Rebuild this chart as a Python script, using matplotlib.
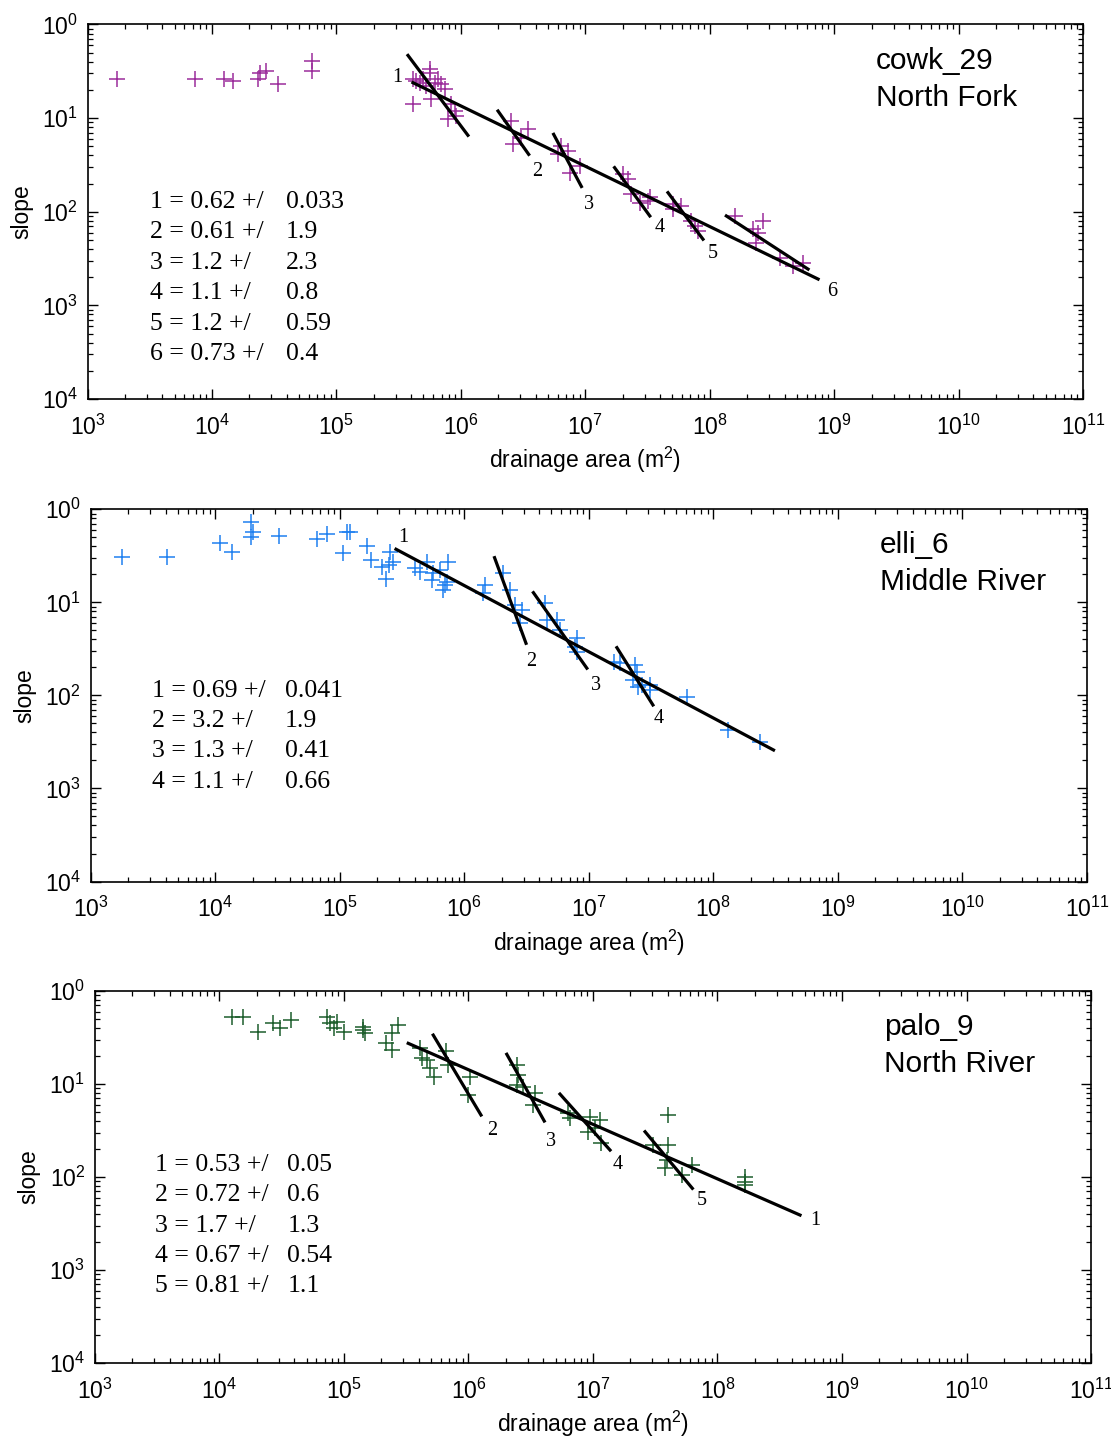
import matplotlib
matplotlib.use("Agg")
import matplotlib.pyplot as plt
from matplotlib import font_manager
from matplotlib.ticker import FixedLocator, FixedFormatter, LogLocator, NullFormatter

# ---- cowk_29 / North Fork ----
cowk_area = [1720, 7245, 12470, 14720, 23380, 24140, 27320, 33870, 63530, 63530,
             412e3, 434e3, 467e3, 495e3, 561e3, 561e3, 528e3, 615e3, 655e3, 697e3,
             741e3, 579e3, 412e3, 839e3, 891e3, 787e3, 920e3,
             2.55e6, 3.46e6, 3.06e6, 2.62e6, 6.43e6, 7.26e6, 6.04e6, 9.02e6, 7.5e6,
             2.01e7, 2.20e7, 2.35e7, 2.74e7, 3.30e7, 3.19e7, 5.07e7, 5.92e7, 5.07e7,
             7.13e7, 7.57e7, 8.05e7, 1.59e8, 2.23e8, 2.44e8, 2.68e8, 2.37e8, 3.66e8,
             4.68e8, 5.62e8]
cowk_slope = [0.264, 0.264, 0.264, 0.248, 0.264, 0.300, 0.318, 0.229, 0.318, 0.406,
              0.259, 0.248, 0.239, 0.259, 0.337, 0.305, 0.220, 0.239, 0.259, 0.229,
              0.203, 0.161, 0.140, 0.140, 0.119, 0.0970, 0.105,
              0.0931, 0.0759, 0.0618, 0.0525, 0.0504, 0.0446, 0.0410, 0.0308, 0.0262,
              0.0251, 0.0222, 0.0154, 0.0125, 0.0142, 0.0130, 0.0120, 0.0115, 0.0106,
              0.00798, 0.00706, 0.00624, 0.00902, 0.00650, 0.00600, 0.00798, 0.00469,
              0.00324, 0.00264, 0.00287]
cowk_fit_area = [(4.12e5, 7.43e8), (3.76e5, 1.14e6), (1.99e6, 3.51e6), (5.57e6, 9.31e6),
                 (1.72e7, 3.30e7), (4.62e7, 8.83e7), (1.36e8, 6.17e8)]
cowk_fit_slope = [(0.239, 0.00191), (0.467, 0.0655), (0.119, 0.041), (0.0671, 0.0186),
                  (0.0296, 0.00902), (0.016, 0.00509), (0.00902, 0.00244)]
cowk_lbl_pos = [(3.1e5, 0.272), (4.07e6, 0.027), (1.08e7, 0.012), (3.96e7, 0.00684),
                (1.06e8, 0.0036), (9.57e8, 0.00142)]
cowk_lbl_txt = ["1", "2", "3", "4", "5", "6"]
cowk_theta = ["1 = 0.62 +/", "2 = 0.61 +/", "3 = 1.2 +/", "4 = 1.1 +/", "5 = 1.2 +/", "6 = 0.73 +/"]
cowk_err = ["0.033", "1.9", "2.3", "0.8", "0.59", "0.4"]

# ---- elli_6 / Middle River ----
elli_area = [1795, 4074, 10940, 13580, 19280, 19280, 20230, 32510, 65310, 78700,
             1.07e5, 1.14e5, 1.21e5, 1.65e5, 1.77e5, 2.17e5, 2.35e5, 2.54e5, 2.69e5, 2.50e5,
             4.03e5, 4.42e5, 5.0e5, 5.65e5, 6.40e5, 5.48e5, 7.45e5, 7.23e5, 6.79e5, 7.01e5,
             1.47e6, 1.42e6, 2.06e6, 2.33e6, 2.56e6, 2.90e6, 2.81e6, 4.46e6, 4.60e6,
             5.53e6, 5.89e6, 8.02e6, 7.76e6, 8.02e6, 1.58e7, 1.78e7, 2.36e7, 2.43e7,
             2.28e7, 2.67e7, 3.11e7, 2.50e7, 3.11e7, 6.12e7, 1.32e8, 2.38e8]
elli_slope = [0.310, 0.310, 0.438, 0.350, 0.736, 0.508, 0.574, 0.516, 0.476, 0.538,
              0.337, 0.566, 0.566, 0.403, 0.285, 0.242, 0.178, 0.350, 0.273, 0.252,
              0.232, 0.213, 0.273, 0.205, 0.223, 0.174, 0.273, 0.167, 0.136, 0.154,
              0.154, 0.125, 0.205, 0.136, 0.0937, 0.0828, 0.0596, 0.0977, 0.0646,
              0.0646, 0.0505, 0.0411, 0.0334, 0.0295, 0.0230, 0.0221, 0.0212, 0.0180,
              0.0147, 0.0129, 0.0129, 0.0124, 0.0114, 0.00968, 0.00425, 0.00318]
elli_fit_area = [(2.83e5, 3.04e8), (1.75e6, 3.13e6), (3.59e6, 9.64e6), (1.68e7, 3.27e7)]
elli_fit_slope = [(0.372, 0.00259), (0.302, 0.0363), (0.127, 0.0196), (0.0326, 0.00789)]
elli_lbl_pos = [(3.23e5, 0.492), (3.44e6, 0.0229), (1.14e7, 0.0129), (3.66e7, 0.00571)]
elli_lbl_txt = ["1", "2", "3", "4"]
elli_theta = ["1 = 0.69 +/", "2 = 3.2 +/", "3 = 1.3 +/", "4 = 1.1 +/"]
elli_err = ["0.041", "1.9", "0.41", "0.66"]

# ---- palo_9 / North River ----
palo_area = [12530, 15520, 20490, 27050, 30620, 37330, 72630, 77250, 87330, 83180,
             1.0e5, 1.429e5, 1.475e5, 1.429e5, 2.415e5, 2.729e5, 2.173e5, 2.415e5,
             4.074e5, 4.207e5, 4.613e5, 4.909e5, 5.284e5, 6.592e5, 6.886e5, 1.028e6, 9.95e5,
             2.44e6, 2.51e6, 2.44e6, 2.75e6, 3.42e6, 3.31e6, 6.34e6, 6.53e6, 9.46e6,
             1.14e7, 9.16e6, 1.04e7, 1.17e7, 3.05e7, 4.03e7, 4.03e7, 3.91e7, 3.78e7,
             5.15e7, 6.21e7, 1.66e8, 1.66e8, 1.66e8]
palo_slope = [0.529, 0.529, 0.365, 0.456, 0.397, 0.488, 0.521, 0.450, 0.468, 0.397,
              0.365, 0.413, 0.351, 0.381, 0.351, 0.431, 0.274, 0.232,
              0.242, 0.189, 0.181, 0.148, 0.120, 0.228, 0.160, 0.120, 0.0762,
              0.160, 0.125, 0.0975, 0.0935, 0.0794, 0.0594, 0.0484, 0.0428, 0.0445,
              0.0410, 0.0307, 0.0334, 0.0230, 0.0221, 0.0464, 0.0221, 0.0152, 0.0124,
              0.0105, 0.0135, 0.0101, 0.00890, 0.00820]
palo_fit_area = [(3.28e5, 4.60e8), (5.21e5, 1.26e6), (2.03e6, 4.06e6), (5.43e6, 1.37e7),
                 (2.62e7, 6.28e7)]
palo_fit_slope = [(0.274, 0.0039), (0.336, 0.0464), (0.209, 0.040), (0.078, 0.0195),
                  (0.0307, 0.00756)]
palo_lbl_pos = [(6.07e8, 0.00345), (1.55e6, 0.032), (4.6e6, 0.0244), (1.59e7, 0.0135),
                (7.5e7, 0.00566)]
palo_lbl_txt = ["1", "2", "3", "4", "5"]
palo_theta = ["1 = 0.53 +/", "2 = 0.72 +/", "3 = 1.7 +/", "4 = 0.67 +/", "5 = 0.81 +/"]
palo_err = ["0.05", "0.6", "1.3", "0.54", "1.1"]

x_ticks = [1e3, 1e4, 1e5, 1e6, 1e7, 1e8, 1e9, 1e10, 1e11]
x_tick_labels = ["$10^{3}$", "$10^{4}$", "$10^{5}$", "$10^{6}$", "$10^{7}$",
                 "$10^{8}$", "$10^{9}$", "$10^{10}$", "$10^{11}$"]
y_ticks = [1e-4, 1e-3, 1e-2, 1e-1, 1e0]
y_tick_labels = ["$10^{4}$", "$10^{3}$", "$10^{2}$", "$10^{1}$", "$10^{0}$"]

installed = {f.name for f in font_manager.fontManager.ttflist}
SANS = "Liberation Sans Narrow" if "Liberation Sans Narrow" in installed else "Liberation Sans"
SERIF = "Liberation Serif"
plt.rcParams["font.family"] = SANS
plt.rcParams["mathtext.fontset"] = "custom"
plt.rcParams["mathtext.rm"] = SANS
plt.rcParams["mathtext.it"] = SANS
plt.rcParams["mathtext.bf"] = SANS


def draw_panel(ax, area, slope, color, fit_area, fit_slope, lbl_pos, lbl_txt,
               theta, err, name, river, leg_top, leg_x0, leg_x1):
    ax.set_xscale("log")
    ax.set_yscale("log")
    ax.set_xlim(1e3, 1e11)
    ax.set_ylim(1e-4, 1e0)
    ax.plot(area, slope, linestyle="none", marker="+", color=color,
            markersize=11, markeredgewidth=1.1, zorder=2)
    for (xa, xb), (ya, yb) in zip(fit_area, fit_slope):
        ax.plot([xa, xb], [ya, yb], color="black", linewidth=2.3, zorder=3)
    for (lx, ly), t in zip(lbl_pos, lbl_txt):
        ax.text(lx, ly, t, family=SERIF, fontsize=14.5, ha="center", va="center")
    for i, (a, b) in enumerate(zip(theta, err)):
        ax.text(leg_x0, leg_top - i * 0.0815, a, transform=ax.transAxes, family=SERIF,
                fontsize=18.5, ha="left", va="center")
        ax.text(leg_x1, leg_top - i * 0.0815, b, transform=ax.transAxes, family=SERIF,
                fontsize=18.5, ha="left", va="center")
    ax.text(0.792, 0.903, name, transform=ax.transAxes, fontsize=21.5, ha="left",
            va="center", family="Liberation Sans")
    ax.text(0.792, 0.805, river, transform=ax.transAxes, fontsize=21.5, ha="left",
            va="center", family="Liberation Sans")

    ax.xaxis.set_major_locator(FixedLocator(x_ticks))
    ax.xaxis.set_major_formatter(FixedFormatter(x_tick_labels))
    ax.yaxis.set_major_locator(FixedLocator(y_ticks))
    ax.yaxis.set_major_formatter(FixedFormatter(y_tick_labels))
    ax.xaxis.set_minor_locator(LogLocator(base=10, subs=range(2, 10), numticks=20))
    ax.yaxis.set_minor_locator(LogLocator(base=10, subs=range(2, 10), numticks=20))
    ax.xaxis.set_minor_formatter(NullFormatter())
    ax.yaxis.set_minor_formatter(NullFormatter())
    ax.tick_params(which="both", direction="in", top=True, right=True, labelsize=16.5)
    ax.tick_params(which="major", length=7.5, width=1.0)
    ax.tick_params(which="minor", length=3.8, width=0.9)
    ax.tick_params(axis="x", pad=11)
    ax.tick_params(axis="y", pad=7)
    for s in ax.spines.values():
        s.set_linewidth(1.2)
    ax.set_xlabel("drainage area (m$^{2}$)", fontsize=16.5, labelpad=4)
    ax.set_ylabel("slope", fontsize=16.5, labelpad=6)


fig = plt.figure(figsize=(11.11, 14.39), dpi=100)
ax1 = fig.add_axes([0.0788, 0.7227, 0.8960, 0.2603])
ax2 = fig.add_axes([0.0816, 0.3874, 0.8968, 0.2587])
ax3 = fig.add_axes([0.0855, 0.0528, 0.8965, 0.2585])

draw_panel(ax1, cowk_area, cowk_slope, "#9b2c9b", cowk_fit_area, cowk_fit_slope,
           cowk_lbl_pos, cowk_lbl_txt, cowk_theta, cowk_err, "cowk_29", "North Fork",
           0.527, 0.063, 0.199)
draw_panel(ax2, elli_area, elli_slope, "#1f80f0", elli_fit_area, elli_fit_slope,
           elli_lbl_pos, elli_lbl_txt, elli_theta, elli_err, "elli_6", "Middle River",
           0.513, 0.062, 0.195)
draw_panel(ax3, palo_area, palo_slope, "#1d5e2c", palo_fit_area, palo_fit_slope,
           palo_lbl_pos, palo_lbl_txt, palo_theta, palo_err, "palo_9", "North River",
           0.532, 0.06, 0.193)

fig.savefig("out.png", dpi=100)
plt.close(fig)
